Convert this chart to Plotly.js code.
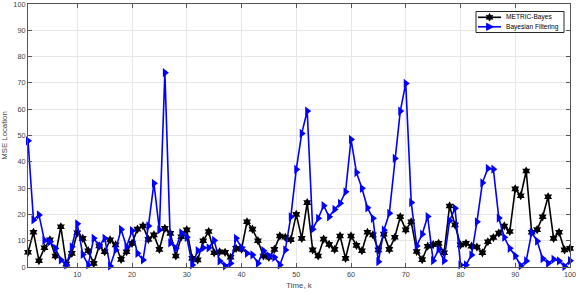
<!DOCTYPE html>
<html><head><meta charset="utf-8">
<script src="https://cdn.plot.ly/plotly-3.0.1.min.js"></script>
<style>html,body{margin:0;padding:0;background:#fff}#chart{width:576px;height:292px}</style>
</head><body><div id="chart"></div>
<script>
const timeK = Array.from({length:100},(_, i)=>i+1);
const metricBayes = [5.6,13.2,2.4,7.3,10.3,4.2,15.3,1.1,5.2,13,
10.9,6.2,1.4,8,5.8,10.3,8.4,2.9,5.8,9,
14.4,15.6,10.5,12.2,6.7,14.7,12.8,4.2,11.5,14.1,
3.3,2.7,10,13.5,5.4,5.8,5.6,3.7,7.1,6.8,
17.2,14.4,10,4.2,3.7,6.7,11.8,11.3,10.4,20,
10.9,24.5,6.5,4.2,10.6,8.6,6.7,11.8,3.3,11.8,
8.2,6.2,13.2,12.2,6.5,12.5,6.7,11.3,19.1,14.1,
17.2,5.9,2.8,7.9,8.5,9,5.4,23.2,16,8.4,
9,7.9,7.6,5.4,9.6,11.2,12.9,15.6,13.5,29.7,
27.1,36.5,13.2,14.2,19.1,26.7,10.9,13.2,6.5,7.1];
const bayesFilter = [48,17.9,19.8,10.1,9.6,7.1,2.7,0.8,7.7,16.4,
4.8,0.8,10.9,8,10.9,0.4,6.5,14.3,7.7,13.8,
5.2,2.7,15.6,31.8,14.1,73.9,9.2,7.1,13,11.3,
0.8,6.2,7.3,7.3,10.1,2.3,0.4,1.4,10.9,7.4,
5.2,4.6,1.4,6.2,4.2,3.7,0.8,6.5,19.1,37.1,
50.8,59.3,14.4,18.5,23.3,19.1,21.9,24.2,28.6,48.5,
35.9,29.9,22.5,18.5,2,14,20.4,41.3,59.3,69.8,
24.5,8,12.5,19.2,2.4,6.7,2.4,17.6,22.3,0.8,
0.8,4.6,17.2,32,37.5,37.2,18.6,11.3,7.1,4.2,
0.5,2.3,13.2,9.8,3.2,1.4,2.9,2.3,0.2,2.4];
const xTicks = [10,20,30,40,50,60,70,80,90,100];
const yTicks = [0,10,20,30,40,50,60,70,80,90,100];
const seriesNames = ['METRIC-Bayes','Bayesian Filtering'];
const seriesColors = ['#000000','#0000ff'];

const FONT = 'Liberation Sans, Arial, sans-serif';
const traces = [
 {x:timeK, y:metricBayes, name:seriesNames[0], type:'scatter', mode:'lines+markers', cliponaxis:false,
  line:{color:seriesColors[0], width:1.6}, marker:{symbol:'hexagram', size:7, color:seriesColors[0]}},
 {x:timeK, y:bayesFilter, name:seriesNames[1], type:'scatter', mode:'lines+markers', cliponaxis:false,
  line:{color:seriesColors[1], width:1.6}, marker:{symbol:'triangle-right', size:8, color:seriesColors[1]}}
];

const L = 28, T = 4, W = 542, H = 263;
const px2x = p => (p - L) / W;
const py2y = p => (T + H - p) / H;
function starPath(r1, r2){
  let s = '';
  for (let i = 0; i < 12; i++){
    const a = Math.PI/2 + i*Math.PI/6;
    const r = i % 2 === 0 ? r1 : r2;
    s += (i === 0 ? 'M' : 'L') + (r*Math.cos(a)).toFixed(2) + ',' + (r*Math.sin(a)).toFixed(2);
  }
  return s + 'Z';
}
const legendRows = [17.3, 26.8];
const shapes = [
  {type:'rect', xref:'paper', yref:'paper', x0:px2x(476), x1:px2x(564), y0:py2y(11.5), y1:py2y(32.5),
   line:{color:'#262626', width:1}, fillcolor:'#ffffff', layer:'above'}
];
const annotations = [];
legendRows.forEach((ry, i) => {
  shapes.push({type:'line', xref:'paper', yref:'paper', x0:px2x(478), x1:px2x(501), y0:py2y(ry), y1:py2y(ry),
    line:{color:seriesColors[i], width:1.6}, layer:'above'});
  shapes.push({type:'path', xref:'paper', yref:'paper', xsizemode:'pixel', ysizemode:'pixel',
    xanchor:px2x(489.5), yanchor:py2y(ry),
    path: i === 0 ? starPath(3.8, 2.0) : 'M-3,3.6L4,0L-3,-3.6Z',
    fillcolor:seriesColors[i], line:{color:seriesColors[i], width:0.8}, layer:'above'});
  annotations.push({xref:'paper', yref:'paper', x:px2x(503.5), y:py2y(ry), xanchor:'left', yanchor:'middle',
    text:seriesNames[i], showarrow:false, font:{family:FONT, size:6.6, color:'#000'}});
});

const axisCommon = {showline:true, linecolor:'#555', linewidth:1, mirror:'ticks', ticks:'inside', ticklen:4,
  tickcolor:'#555', showgrid:true, gridcolor:'#e6e6e6', gridwidth:1, zeroline:false, ticklabeloverflow:'allow',
  tickfont:{family:FONT, size:7.3, color:'#444'}};
const layout = {
 width:576, height:292, margin:{l:28, r:6, t:4, b:25}, paper_bgcolor:'#fff', plot_bgcolor:'#fff',
 showlegend:false,
 xaxis:Object.assign({}, axisCommon, {range:[1,100], tickmode:'array', tickvals:xTicks, ticktext:xTicks.map(String),
   title:{text:'Time, k', standoff:4, font:{family:FONT, size:7.8, color:'#444'}}}),
 yaxis:Object.assign({}, axisCommon, {range:[0,100], tickmode:'array', tickvals:yTicks, ticktext:yTicks.map(String),
   title:{text:'MSE Location', standoff:5, font:{family:FONT, size:7.8, color:'#444'}}}),
 shapes:shapes, annotations:annotations
};
Plotly.newPlot('chart', traces, layout, {displayModeBar:false, staticPlot:true});
</script></body></html>
